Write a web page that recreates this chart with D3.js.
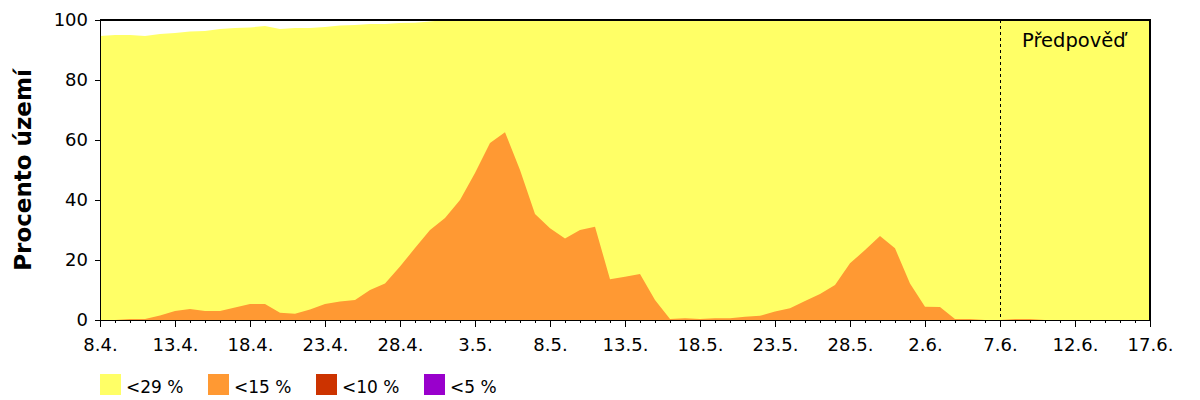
<!DOCTYPE html>
<html>
<head>
<meta charset="utf-8">
<script src="https://cdn.jsdelivr.net/npm/d3@7"></script>
<style>
  body { margin: 0; background: #fff; }
  svg { display: block; }
  text { font-family: "DejaVu Sans", sans-serif; fill: #000; }
</style>
</head>
<body>
<svg id="chart" width="1200" height="400"></svg>
<script>
// ---- data (one value per day, starting 8.4.) ----
const dayLabels = ["8.4.", "13.4.", "18.4.", "23.4.", "28.4.", "3.5.", "8.5.", "13.5.",
                   "18.5.", "23.5.", "28.5.", "2.6.", "7.6.", "12.6.", "17.6."];
const seriesNames = ["<29 %", "<15 %", "<10 %", "<5 %"];
const seriesColors = ["#ffff66", "#ff9933", "#cc3300", "#9900cc"];

// share of territory (%) for each class, cumulative
const below29 = [94.7, 95.0, 95.0, 94.7, 95.3, 95.7, 96.2, 96.3, 97.0, 97.3,
                 97.5, 98.0, 97.0, 97.3, 97.3, 97.7, 98.2, 98.3, 98.7, 98.7,
                 99.0, 99.1, 99.5, 100, 100, 100, 100, 100, 100, 100,
                 100, 100, 100, 100, 100, 100, 100, 100, 100, 100,
                 100, 100, 100, 100, 100, 100, 100, 100, 100, 100,
                 100, 100, 100, 100, 100, 100, 100, 100, 100, 100,
                 100, 100, 100, 100, 100, 100, 100, 100, 100, 100, 100];
const below15 = [0, 0, 0.3, 0.3, 1.5, 3.0, 3.7, 3.0, 3.0, 4.2,
                 5.3, 5.3, 2.4, 2.1, 3.5, 5.3, 6.2, 6.7, 10.0, 12.2,
                 17.8, 24.0, 30.0, 34.0, 40.0, 49.0, 59.0, 62.6, 50.0, 35.3,
                 30.6, 27.2, 30.0, 31.1, 13.6, 14.4, 15.3, 6.7, 0.3, 0.6,
                 0.3, 0.6, 0.6, 1.1, 1.4, 2.8, 3.9, 6.3, 8.7, 11.7,
                 18.9, 23.3, 28.0, 23.9, 12.2, 4.4, 4.3, 0.3, 0.3, 0,
                 0, 0.3, 0.3, 0, 0, 0, 0, 0, 0, 0, 0];
const below10 = [0, 0, 0, 0, 0, 0, 0, 0, 0, 0, 0, 0, 0, 0, 0, 0, 0, 0, 0, 0,
                 0, 0, 0, 0, 0, 0, 0, 0, 0, 0, 0, 0, 0, 0, 0, 0, 0, 0, 0, 0,
                 0, 0, 0, 0, 0, 0, 0, 0, 0, 0, 0, 0, 0, 0, 0, 0, 0, 0, 0, 0,
                 0, 0, 0, 0, 0, 0, 0, 0, 0, 0, 0];
const below5  = [0, 0, 0, 0, 0, 0, 0, 0, 0, 0, 0, 0, 0, 0, 0, 0, 0, 0, 0, 0,
                 0, 0, 0, 0, 0, 0, 0, 0, 0, 0, 0, 0, 0, 0, 0, 0, 0, 0, 0, 0,
                 0, 0, 0, 0, 0, 0, 0, 0, 0, 0, 0, 0, 0, 0, 0, 0, 0, 0, 0, 0,
                 0, 0, 0, 0, 0, 0, 0, 0, 0, 0, 0];
const forecastStartDay = 60;   // 7.6.
const forecastLabel = "Předpověď";
const yTicks = [0, 20, 40, 60, 80, 100];
const yTitle = "Procento území";

// ---- layout ----
const svg = d3.select("#chart");
const margin = { left: 100, right: 50, top: 20, bottom: 80 };
const W = 1200, H = 400;
const innerW = W - margin.left - margin.right;
const innerH = H - margin.top - margin.bottom;
const nDays = below29.length - 1;

const x = d3.scaleLinear().domain([0, nDays]).range([margin.left, margin.left + innerW]);
const y = d3.scaleLinear().domain([0, 100]).range([margin.top + innerH, margin.top]);

const series = [below29, below15, below10, below5];
const area = d3.area()
  .x((d, i) => x(i))
  .y0(y(0))
  .y1(d => y(d));

const g = svg.append("g");
series.forEach((vals, k) => {
  g.append("path")
    .datum(vals)
    .attr("d", area)
    .attr("fill", seriesColors[k])
    .attr("stroke", "none");
});

// forecast line
svg.append("line")
  .attr("x1", x(forecastStartDay)).attr("x2", x(forecastStartDay))
  .attr("y1", y(100)).attr("y2", y(0))
  .attr("stroke", "#000").attr("stroke-width", 1)
  .attr("stroke-dasharray", "3,3")
  .attr("shape-rendering", "crispEdges");

svg.append("text")
  .attr("x", x(forecastStartDay) + 22)
  .attr("y", 47)
  .attr("font-size", 19.5)
  .text(forecastLabel);

// frame (top + right)
svg.append("path")
  .attr("d", `M${x(0)},${y(100)}H${x(nDays)}V${y(0)}`)
  .attr("fill", "none").attr("stroke", "#000").attr("stroke-width", 1.5)
  .attr("shape-rendering", "crispEdges");

// x axis
const xMinor = d3.axisBottom(x).tickValues(d3.range(0, nDays + 1)).tickSize(3).tickFormat("");
svg.append("g").attr("transform", `translate(0,${y(0)})`).call(xMinor)
  .call(s => s.select(".domain").remove())
  .call(s => s.selectAll("line").attr("stroke", "#000").attr("shape-rendering", "crispEdges"));

const xAxis = d3.axisBottom(x)
  .tickValues(d3.range(0, nDays + 1, 5))
  .tickSize(7)
  .tickSizeOuter(0)
  .tickPadding(11)
  .tickFormat((d, i) => dayLabels[i]);
const gx = svg.append("g").attr("transform", `translate(0,${y(0)})`).call(xAxis);
gx.select(".domain").attr("stroke", "#000").attr("stroke-width", 1.5).attr("shape-rendering", "crispEdges");
gx.selectAll("line").attr("stroke", "#000").attr("shape-rendering", "crispEdges");
gx.selectAll("text").attr("font-size", 18).attr("font-family", "DejaVu Sans").attr("fill", "#000");

// y axis
const yAxis = d3.axisLeft(y).tickValues(yTicks).tickSize(5).tickSizeOuter(0).tickPadding(7);
const gy = svg.append("g").attr("transform", `translate(${x(0)},0)`).call(yAxis);
gy.select(".domain").attr("stroke", "#000").attr("stroke-width", 1.5).attr("shape-rendering", "crispEdges");
gy.selectAll("line").attr("stroke", "#000").attr("shape-rendering", "crispEdges");
gy.selectAll("text").attr("font-size", 18).attr("font-family", "DejaVu Sans").attr("fill", "#000");

svg.append("text")
  .attr("transform", `translate(31,${y(50)}) rotate(-90)`)
  .attr("text-anchor", "middle")
  .attr("font-size", 23)
  .attr("font-weight", "bold")
  .text(yTitle);

// legend
const legend = svg.append("g").attr("transform", `translate(${x(0)},374)`);
seriesNames.forEach((name, k) => {
  const lg = legend.append("g").attr("transform", `translate(${k * 108},0)`);
  lg.append("rect").attr("width", 21).attr("height", 21).attr("fill", seriesColors[k]);
  lg.append("text").attr("x", 26).attr("y", 18.5).attr("font-size", 17).text(name);
});
</script>
</body>
</html>
